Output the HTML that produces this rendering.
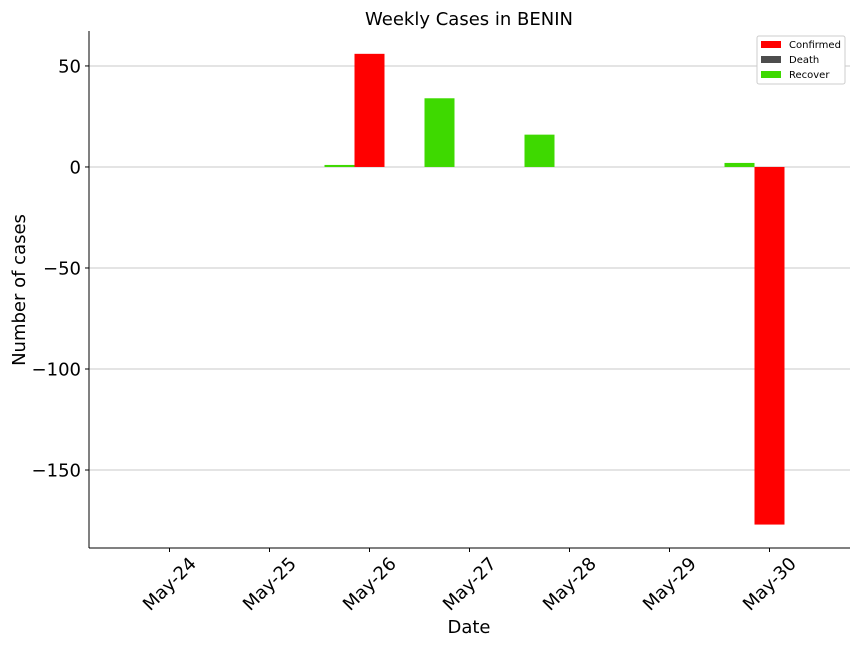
<!DOCTYPE html>
<html><head><meta charset="utf-8"><style>
body{margin:0;background:#fff;font-family:"Liberation Sans",sans-serif}
svg text{font-family:"DejaVu Sans","Liberation Sans",sans-serif}
</style></head><body>
<svg id="chart" width="864" height="648" xmlns="http://www.w3.org/2000/svg"></svg>
<script>
const categories=["May-24","May-25","May-26","May-27","May-28","May-29","May-30"];
const confirmed=[0,0,56,0,0,0,-177];
const death=[0,0,0,0,0,0,0];
const recover=[0,0,1,34,16,0,2];
const yTicks=[50,0,-50,-100,-150];
const NS="http://www.w3.org/2000/svg";
const svg=document.getElementById('chart');
const L=89,R=850,T=31,B=548,yMin=-188.6,yMax=67.3;
function y(v){return T+(yMax-v)/(yMax-yMin)*(B-T);}
function x(i){return 169.5+i*100;}
function el(tag,attrs,parent){const e=document.createElementNS(NS,tag);for(const k in attrs)e.setAttribute(k,attrs[k]);(parent||svg).appendChild(e);return e;}
yTicks.forEach(t=>{
 const g=el('line',{x1:L,x2:R,y1:y(t),y2:y(t),stroke:'#c8c8c8','stroke-width':1});
 
 
 el('line',{x1:L-4,x2:L,y1:y(t),y2:y(t),stroke:'#000'});
 const tx=el('text',{x:L-8,y:y(t)+6.5,'text-anchor':'end','font-size':18});
 tx.textContent=t<0?'\u2212'+Math.abs(t):String(t);
 
 
});
const series=[[recover,'#3ed900',-45,'recover'],[confirmed,'#ff0000',-15,'confirmed'],[death,'#4d4d4d',15,'death']];
series.forEach(([vals,col,off,nm])=>{
 vals.forEach((v,i)=>{
  if(v===0)return;
  const r=el('rect',{x:x(i)+off,width:30,y:Math.min(y(v),y(0)),height:Math.abs(y(v)-y(0)),fill:col});
  
  
 });
});
el('line',{x1:L,x2:L,y1:T,y2:B,stroke:'#000'});
el('line',{x1:L,x2:R,y1:B,y2:B,stroke:'#000'});
categories.forEach((c,i)=>{
 el('line',{x1:x(i),x2:x(i),y1:B,y2:B+4,stroke:'#000'});
 const tx=el('text',{x:0,y:6,'text-anchor':'middle','font-size':18,transform:`translate(${x(i)},${B+36}) rotate(-45)`});
 tx.textContent=c;
 
 
});
const ti=el('text',{x:469,y:25,'text-anchor':'middle','font-size':18});ti.textContent='Weekly Cases in BENIN';


const xt=el('text',{x:469,y:633,'text-anchor':'middle','font-size':18});xt.textContent='Date';


const yt=el('text',{x:0,y:0,'text-anchor':'middle','font-size':18,transform:'translate(25,290) rotate(-90)'});yt.textContent='Number of cases';


const lg=el('rect',{x:757,y:36,width:88,height:48,fill:'#fff',stroke:'#ccc',rx:2});


[['Confirmed','#ff0000'],['Death','#4d4d4d'],['Recover','#3ed900']].forEach(([n,c],k)=>{
 el('rect',{x:761,y:41+k*15,width:20,height:7,fill:c});
 const t=el('text',{x:789,y:48+k*15,'font-size':10});t.textContent=n;
 
 
});
</script>
</body></html>
